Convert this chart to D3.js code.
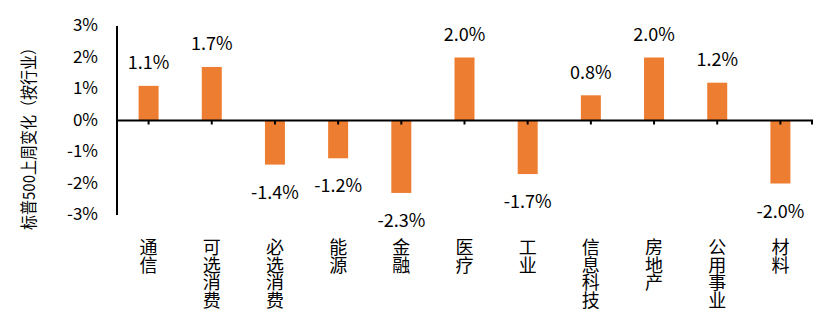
<!DOCTYPE html>
<html><head><meta charset="utf-8">
<script src="https://cdn.jsdelivr.net/npm/d3@7"></script>
<style>body{margin:0;background:#fff;} svg{display:block;}</style>
</head><body>
<svg id="c" width="826" height="326"></svg>
<script>
const categories = ["通信","可选消费","必选消费","能源","金融","医疗","工业","信息科技","房地产","公用事业","材料"];
const values = [1.1, 1.7, -1.4, -1.2, -2.3, 2.0, -1.7, 0.8, 2.0, 1.2, -2.0];
const yTicks = [3, 2, 1, 0, -1, -2, -3];
const yTitle = "标普500上周变化（按行业）";

(function(){
const font = "'Noto Sans CJK SC', 'Noto Sans', sans-serif";
const svg = d3.select("#c");
const pl = 117, pr = 812, pt = 26, pb = 215;
const x = d3.scaleBand().domain(categories).range([pl, pr]);
const y = d3.scaleLinear().domain([-3, 3]).range([pb, pt]);
const barW = 20;

svg.selectAll("rect.bar").data(values).enter().append("rect")
  .attr("x", (d,i) => x(categories[i]) + x.bandwidth()/2 - barW/2)
  .attr("y", d => y(Math.max(0,d)))
  .attr("width", barW)
  .attr("height", d => Math.abs(y(d) - y(0)))
  .attr("fill", "#ED7D31");

svg.append("line").attr("x1", pl).attr("x2", pl).attr("y1", y(3)).attr("y2", y(-3))
  .attr("stroke", "#000").attr("stroke-width", 2);
svg.append("line").attr("x1", pl).attr("x2", pr+1).attr("y1", y(0)).attr("y2", y(0))
  .attr("stroke", "#000").attr("stroke-width", 2);
const tickXs = categories.map(c => x(c) + x.bandwidth()/2).concat([pr]);
svg.selectAll("line.xt").data(tickXs).enter().append("line")
  .attr("x1", d => d).attr("x2", d => d).attr("y1", y(0)).attr("y2", y(0)+4)
  .attr("stroke", "#000").attr("stroke-width", 2);

svg.selectAll("text.yt").data(yTicks).enter().append("text")
  .attr("x", 98).attr("y", d => y(d)).attr("dy", "0.3em")
  .attr("text-anchor", "end").attr("font-family", font).attr("font-size", 17)
  .attr("fill", "#000").text(d => d + "%");

svg.selectAll("text.dl").data(values).enter().append("text")
  .attr("x", (d,i) => x(categories[i]) + x.bandwidth()/2)
  .attr("y", d => d >= 0 ? y(d) - 16.5 : y(d) + 34)
  .attr("text-anchor", "middle").attr("font-family", font).attr("font-size", 18)
  .attr("fill", "#000").text(d => d.toFixed(1) + "%");

const chars = [];
categories.forEach(c => Array.from(c).forEach((ch, k) => chars.push({c, ch, k})));
svg.selectAll("text.cat").data(chars).enter().append("text")
  .attr("x", d => x(d.c) + x.bandwidth()/2)
  .attr("y", d => 254 + d.k*17.5)
  .attr("text-anchor", "middle").attr("font-family", font).attr("font-size", 18).attr("fill", "#000")
  .text(d => d.ch);

svg.append("text").attr("transform", `translate(35,135) rotate(-90)`)
  .attr("text-anchor", "middle").attr("font-family", font).attr("font-size", 16.5)
  .attr("textLength", 190).attr("lengthAdjust", "spacingAndGlyphs")
  .attr("fill", "#000").text(yTitle);
})();
</script>
</body></html>
